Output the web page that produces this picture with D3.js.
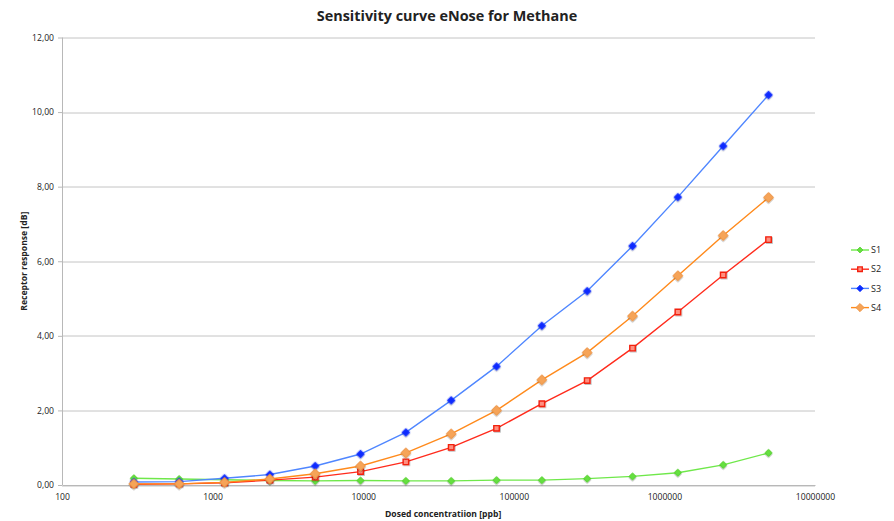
<!DOCTYPE html>
<html>
<head>
<meta charset="utf-8">
<script src="https://cdn.jsdelivr.net/npm/d3@7"></script>
<style>
  body { margin: 0; background: #fff; }
  svg text { font-family: "Open Sans", "Liberation Sans", sans-serif; fill: #222; }
  .tick-label { font-size: 8.6px; }
  .axis-title { font-size: 8.6px; font-weight: bold; }
  .chart-title { font-size: 14.4px; font-weight: bold; }
  .legend-label { font-size: 9px; }
</style>
</head>
<body>
<div id="chart"></div>
<script>
(function () {

  // data: concentrations in ppb (doubling steps) and sensor responses in dB
  const concentrations = [300, 600, 1200, 2400, 4800, 9600, 19200, 38400, 76800,
    153600, 307200, 614400, 1228800, 2457600, 4915200];
  const seriesNames = ["S1", "S2", "S3", "S4"];
  const s1 = [0.18, 0.16, 0.14, 0.12, 0.11, 0.12, 0.11, 0.11, 0.13, 0.13, 0.17, 0.23, 0.33, 0.54, 0.86];
  const s2 = [0.02, 0.03, 0.06, 0.13, 0.21, 0.36, 0.62, 1.01, 1.52, 2.18, 2.80, 3.67, 4.64, 5.63, 6.58];
  const s3 = [0.08, 0.09, 0.18, 0.28, 0.51, 0.83, 1.41, 2.27, 3.18, 4.27, 5.20, 6.41, 7.72, 9.09, 10.46];
  const s4 = [0.03, 0.03, 0.07, 0.16, 0.30, 0.51, 0.86, 1.37, 2.00, 2.82, 3.55, 4.53, 5.61, 6.69, 7.71];
  const xTicks = [100, 1000, 10000, 100000, 1000000, 10000000];
  const yTicks = [0, 2, 4, 6, 8, 10, 12];

  const chartTitle = "Sensitivity curve eNose for Methane";
  const xTitle = "Dosed concentratiion [ppb]";
  const yTitle = "Receptor response [dB]";

  // chart settings
  const svg_width = 894;
  const svg_height = 521;
  const margin = { top: 37.5, right: 79, bottom: 36, left: 62 },
    width = svg_width - margin.left - margin.right,
    height = svg_height - margin.top - margin.bottom;

  // diamonds are squares turned by 45 degrees
  const styles = {
    S1: { line: "#6fe84a", fill: "#66e040", stroke: "#4fcf2a", rot: 45, size: 24 },
    S2: { line: "#ff2b1c", fill: "#ff8f80", stroke: "#f2200f", rot: 0, size: 30 },
    S3: { line: "#4f86ff", fill: "#0a2cff", stroke: "#0a2cff", rot: 45, size: 30 },
    S4: { line: "#ff8a1c", fill: "#f6a458", stroke: "#ec9140", rot: 45, size: 48 }
  };

  const series = [s1, s2, s3, s4].map(function (vals, i) {
    return {
      name: seriesNames[i],
      values: vals.map(function (v, j) { return { x: concentrations[j], y: v }; })
    };
  });

  // scales
  const x = d3.scaleLog().domain([100, 10000000]).range([0, width]);
  const y = d3.scaleLinear().domain([0, 12]).range([height, 0]);

  const root = d3.select("#chart").append("svg")
    .attr("width", svg_width)
    .attr("height", svg_height);

  const defs = root.append("defs");
  const shadow = defs.append("filter").attr("id", "shadow")
    .attr("x", "-50%").attr("y", "-50%").attr("width", "200%").attr("height", "200%");
  shadow.append("feDropShadow")
    .attr("dx", 0.8).attr("dy", 0.8).attr("stdDeviation", 0.7)
    .attr("flood-color", "#000").attr("flood-opacity", 0.3);

  const svg = root.append("g")
    .attr("transform", "translate(" + margin.left + "," + margin.top + ")");

  // title
  root.append("text")
    .attr("class", "chart-title")
    .attr("x", 447)
    .attr("y", 21)
    .attr("text-anchor", "middle")
    .text(chartTitle);

  // gridlines
  svg.append("g")
    .selectAll("line")
    .data(yTicks)
    .enter().append("line")
    .attr("x1", 0)
    .attr("x2", width)
    .attr("y1", function (d) { return Math.round(y(d)) + 0.5; })
    .attr("y2", function (d) { return Math.round(y(d)) + 0.5; })
    .attr("stroke", "#c4c4c4")
    .attr("stroke-width", 1);

  // y Axis
  const yAxis = svg.append("g")
    .call(d3.axisLeft(y)
      .tickValues(yTicks)
      .tickSize(4)
      .tickFormat(function (d) { return d3.format(".2f")(d).replace(".", ","); }));
  yAxis.select(".domain").attr("stroke", "#b8b8b8").attr("d", "M0.5," + height + "V0");
  yAxis.selectAll(".tick line").attr("stroke", "#b8b8b8");
  yAxis.selectAll(".tick text").attr("class", "tick-label").attr("x", -8).attr("dy", "0.32em");

  // x Axis
  const xAxis = svg.append("g")
    .attr("transform", "translate(0," + height + ")")
    .call(d3.axisBottom(x)
      .tickValues(xTicks)
      .tickSize(0)
      .tickFormat(d3.format("d")));
  xAxis.select(".domain").attr("stroke", "#b8b8b8");
  xAxis.selectAll(".tick text").attr("class", "tick-label").attr("y", 9).attr("dy", "0.71em");

  // axis titles
  root.append("text")
    .attr("class", "axis-title")
    .attr("x", 385)
    .attr("y", 517)
    .text(xTitle);

  root.append("text")
    .attr("class", "axis-title")
    .attr("transform", "translate(27," + (margin.top + height / 2) + ") rotate(-90)")
    .attr("text-anchor", "middle")
    .text(yTitle);

  // lines
  const line = d3.line()
    .x(function (d) { return x(d.x); })
    .y(function (d) { return y(d.y); });

  series.forEach(function (s) {
    const st = styles[s.name];
    const g = svg.append("g").attr("class", "series");

    g.append("path")
      .datum(s.values)
      .attr("fill", "none")
      .attr("stroke", st.line)
      .attr("stroke-width", 1.4)
      .attr("d", line);

    g.selectAll(".marker")
      .data(s.values)
      .enter().append("path")
      .attr("class", "marker")
      .attr("transform", function (d) {
        return "translate(" + x(d.x) + "," + y(d.y) + ") rotate(" + st.rot + ")";
      })
      .attr("d", d3.symbol().type(d3.symbolSquare).size(st.size))
      .attr("fill", st.fill)
      .attr("stroke", st.stroke)
      .attr("stroke-width", s.name === "S2" ? 1.4 : 0.8)
      .attr("filter", "url(#shadow)");
  });

  // legend
  const legend = root.append("g")
    .attr("transform", "translate(851,250)");

  const item = legend.selectAll(".legend-item")
    .data(seriesNames)
    .enter().append("g")
    .attr("class", "legend-item")
    .attr("transform", function (d, i) { return "translate(0," + (i * 19.2) + ")"; });

  item.append("line")
    .attr("x1", 0).attr("x2", 18)
    .attr("stroke", function (d) { return styles[d].line; })
    .attr("stroke-width", 1.4);

  item.append("path")
    .attr("transform", function (d) { return "translate(9,0) rotate(" + styles[d].rot + ")"; })
    .attr("d", function (d) { return d3.symbol().type(d3.symbolSquare).size(styles[d].size * 0.7)(); })
    .attr("fill", function (d) { return styles[d].fill; })
    .attr("stroke", function (d) { return styles[d].stroke; })
    .attr("stroke-width", function (d) { return d === "S2" ? 1.4 : 0.8; });

  item.append("text")
    .attr("class", "legend-label")
    .attr("x", 20)
    .attr("dy", "0.35em")
    .text(function (d) { return d; });

})();
</script>
</body>
</html>
